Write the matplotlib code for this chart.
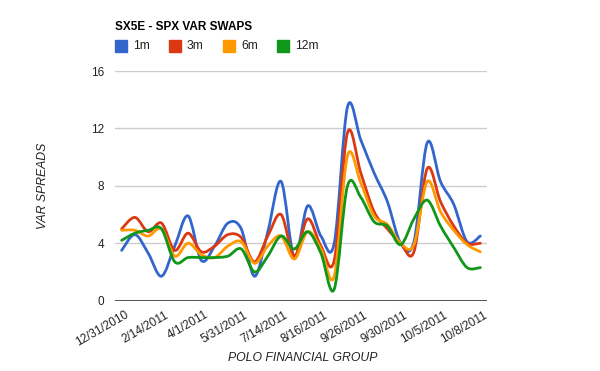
import matplotlib
matplotlib.use("Agg")
import matplotlib.pyplot as plt
import matplotlib.transforms as mtransforms
import numpy as np
from matplotlib.path import Path
from matplotlib.patches import PathPatch, Rectangle

plt.rcParams['font.family'] = ['Liberation Sans', 'DejaVu Sans']

# 28 points, every third one labelled on the axis
tick_labels = ['12/31/2010', '2/14/2011', '4/1/2011', '5/31/2011', '7/14/2011',
               '8/16/2011', '9/26/2011', '9/30/2011', '10/5/2011', '10/8/2011']

var_1m = [3.5, 4.6, 3.3, 1.7, 3.8, 5.9, 2.8, 3.8, 5.4, 5.0, 1.7, 4.8, 8.3, 3.0,
          6.6, 4.5, 4.0, 13.5, 11.2, 8.9, 6.9, 4.0, 4.1, 11.0, 8.3, 6.7, 4.1, 4.5]
var_3m = [5.0, 5.8, 4.8, 5.4, 3.5, 4.7, 3.4, 3.8, 4.6, 4.4, 2.7, 4.5, 6.0, 3.1,
          5.7, 3.8, 2.8, 11.7, 8.9, 6.2, 5.0, 4.0, 3.4, 9.2, 6.9, 5.2, 4.0, 4.0]
var_6m = [4.9, 4.9, 4.5, 5.0, 3.1, 4.0, 3.2, 3.0, 3.8, 4.1, 2.6, 3.8, 4.5, 2.9,
          4.8, 3.6, 1.7, 10.1, 8.2, 5.9, 5.3, 4.0, 3.9, 8.3, 6.2, 4.9, 3.9, 3.4]
var_12m = [4.2, 4.7, 4.9, 5.0, 2.7, 3.0, 3.0, 3.0, 3.1, 3.6, 2.0, 3.1, 4.5, 3.6,
           4.8, 3.3, 0.8, 8.0, 7.2, 5.5, 5.2, 3.9, 5.7, 7.0, 5.2, 3.7, 2.3, 2.3]

series = [('1m', var_1m, '#3366cc'), ('3m', var_3m, '#dc3912'),
          ('6m', var_6m, '#ff9900'), ('12m', var_12m, '#109618')]


def smooth_path(x, y):
    """Catmull-Rom style bezier through the points"""
    x = np.asarray(x, float)
    y = np.asarray(y, float)
    n = len(x)
    verts = [(x[0], y[0])]
    codes = [Path.MOVETO]
    for i in range(n - 1):
        p0 = max(i - 1, 0)
        p3 = min(i + 2, n - 1)
        c1 = (x[i] + (x[i + 1] - x[p0]) / 6, y[i] + (y[i + 1] - y[p0]) / 6)
        c2 = (x[i + 1] - (x[p3] - x[i]) / 6, y[i + 1] - (y[p3] - y[i]) / 6)
        verts += [c1, c2, (x[i + 1], y[i + 1])]
        codes += [Path.CURVE4] * 3
    return Path(verts, codes)


fig = plt.figure(figsize=(6, 3.71), dpi=100)
ax = fig.add_axes([115 / 600, 1 - 300.6 / 371, 372 / 600, 229.6 / 371])

n = len(var_1m)
xs = np.arange(n)
for name, vals, color in series:
    ax.add_patch(PathPatch(smooth_path(xs, vals), facecolor='none',
                           edgecolor=color, lw=2, capstyle='round', zorder=3))

ax.set_xlim(-0.5, n - 0.5)
ax.set_ylim(0, 16)
ax.set_yticks([0, 4, 8, 12, 16])
ax.set_yticklabels(['0', '4', '8', '12', '16'])
for v in [4, 8, 12, 16]:
    ax.axhline(v, color='#cccccc', lw=1, zorder=1)
ax.axhline(0, color='#333333', lw=1.2, zorder=4)
for s in ax.spines.values():
    s.set_visible(False)
ax.tick_params(axis='y', length=0, pad=8, labelsize=8.5, labelcolor='#222222')
ax.set_xticks(xs[::3])
ax.set_xticklabels(tick_labels, rotation=30, ha='right', va='top',
                   rotation_mode='anchor', fontsize=8.5, color='#222222')
ax.tick_params(axis='x', length=0, pad=6)
shift = mtransforms.ScaledTranslation(3 / 100, 0, fig.dpi_scale_trans)
for lab in ax.get_xticklabels():
    lab.set_transform(lab.get_transform() + shift)

ax.set_ylabel('VAR SPREADS', fontstyle='italic', fontsize=8.8, color='#222222', labelpad=30)
fig.text(303 / 600, 1 - 358 / 371, 'POLO FINANCIAL GROUP', fontstyle='italic',
         fontsize=8.8, color='#222222', ha='center', va='center')

fig.text(115 / 600, 1 - 27 / 371, 'SX5E - SPX VAR SWAPS', fontweight='bold',
         fontsize=8.5, color='#000000', ha='left', va='center')

legend_x = [115, 169, 223, 277]
for (name, vals, color), lx in zip(series, legend_x):
    fig.patches.append(Rectangle((lx / 600, 1 - 52 / 371), 11.5 / 600, 11.5 / 371,
                                 transform=fig.transFigure, color=color))
    fig.text((lx + 18) / 600, 1 - 46 / 371, name, fontsize=8.7, color='#222222',
             ha='left', va='center')

plt.savefig('out.png', dpi=100)
